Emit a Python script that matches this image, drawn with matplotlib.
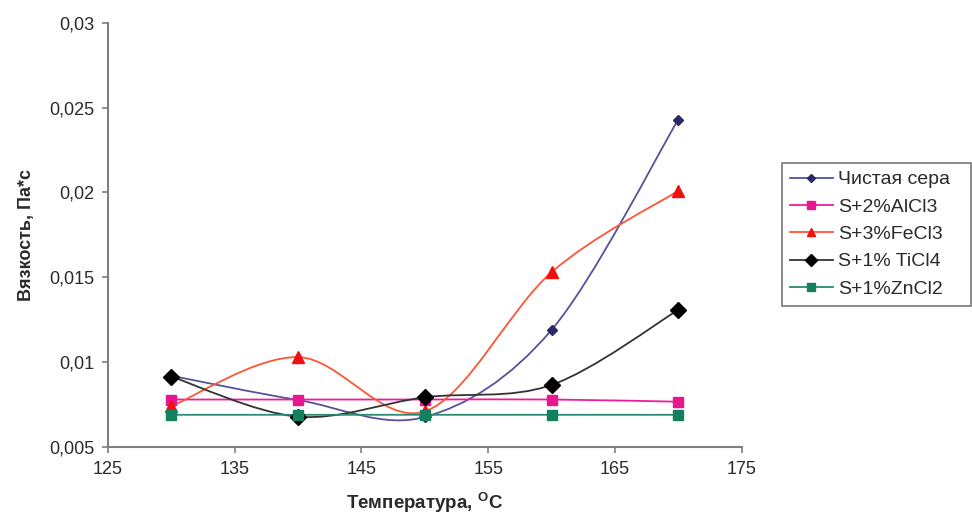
"""
Viscosity of sulfur with additives vs temperature
"""
import numpy as np
import matplotlib
matplotlib.use("Agg")
import matplotlib.pyplot as plt
from matplotlib.path import Path
from matplotlib.patches import PathPatch
from matplotlib.lines import Line2D
from matplotlib.ticker import FuncFormatter

plt.rcParams['font.family'] = ['Liberation Sans', 'DejaVu Sans']

# Data:
temps = [130, 140, 150, 160, 170]
pure_s = [0.0092, 0.00777, 0.00677, 0.0119, 0.0243]
s_alcl3 = [0.0078, 0.0078, 0.0078, 0.0078, 0.00767]
s_fecl3 = [0.0074, 0.0103, 0.0071, 0.0153, 0.0201]
s_ticl4 = [0.00915, 0.00679, 0.00793, 0.00866, 0.01308]
s_zncl2 = [0.0069, 0.0069, 0.0069, 0.0069, 0.0069]

labels = ['Чистая сера', 'S+2%AlCl3', 'S+3%FeCl3', 'S+1% TiCl4', 'S+1%ZnCl2']
series = [pure_s, s_alcl3, s_fecl3, s_ticl4, s_zncl2]

# styles: line colour, marker colour, marker, marker size
styles = [
    ('#55529a', '#2b2868', 'D', 5),
    ('#ee1c9c', '#e8168f', 's', 7),
    ('#ff5533', '#ee1111', '^', 8),
    ('#333333', '#000000', 'D', 8),
    ('#2a8a72', '#138060', 's', 7),
]

text_col = '#2a2a2a'


def smooth_path(x, y):
    # Excel-like smoothed line: Catmull-Rom turned into cubic Bezier segments
    pts = np.column_stack([x, y]).astype(float)
    n = len(pts)
    verts = [pts[0]]
    codes = [Path.MOVETO]
    for i in range(n - 1):
        p_prev = pts[i - 1] if i > 0 else pts[i]
        p_next2 = pts[i + 2] if i + 2 < n else pts[i + 1]
        c1 = pts[i] + (pts[i + 1] - p_prev) / 6
        c2 = pts[i + 1] - (p_next2 - pts[i]) / 6
        verts += [c1, c2, pts[i + 1]]
        codes += [Path.CURVE4] * 3
    return Path(verts, codes)


fig = plt.figure(figsize=(9.72, 5.18), dpi=100)
ax = fig.add_axes([0.111, 0.137, 0.652, 0.819])

handles = []
for vals, lab, (lc, mc, mk, ms) in zip(series, labels, styles):
    ax.add_patch(PathPatch(smooth_path(temps, vals), fill=False,
                           edgecolor=lc, lw=1.3, zorder=2))
    ax.plot(temps, vals, ls='none', marker=mk, color=mc, ms=ms, zorder=3)
    handles.append(Line2D([], [], color=lc, lw=1.3, marker=mk,
                          markerfacecolor=mc, markeredgecolor=mc,
                          ms=ms * 0.8, label=lab))

ax.set_xlim(125, 175)
ax.set_ylim(0.005, 0.03)
ax.set_xticks(np.arange(125, 176, 10))
ax.set_yticks(np.arange(0.005, 0.0301, 0.005))
ax.yaxis.set_major_formatter(FuncFormatter(lambda v, p: f"{v:g}".replace('.', ',')))

ax.spines["top"].set_visible(False)
ax.spines["right"].set_visible(False)
for s in ('left', 'bottom'):
    ax.spines[s].set_color('#808080')
    ax.spines[s].set_linewidth(1.5)
ax.tick_params(direction='out', length=4, width=1.2, color='#808080',
               labelsize=13, labelcolor=text_col, pad=6)

ax.set_xlabel('Температура, $^\\mathregular{O}$C', fontsize=13.5,
              fontweight='bold', color=text_col, labelpad=9)
ax.set_ylabel('Вязкость, Па*с', fontsize=13, fontweight='bold',
              color=text_col, labelpad=10)

leg = fig.legend(handles=handles, loc='upper left',
                 bbox_to_anchor=(782 / 972, 1 - 306 / 518, 189 / 972, 143 / 518),
                 mode='expand', fontsize=14, frameon=True, fancybox=False,
                 edgecolor='#555555', handlelength=2.2, labelspacing=0.5,
                 borderpad=0.4, handletextpad=0.3, borderaxespad=0)
leg.get_frame().set_linewidth(1.2)
for t in leg.get_texts():
    t.set_color(text_col)

plt.savefig('out.png', dpi=100)
